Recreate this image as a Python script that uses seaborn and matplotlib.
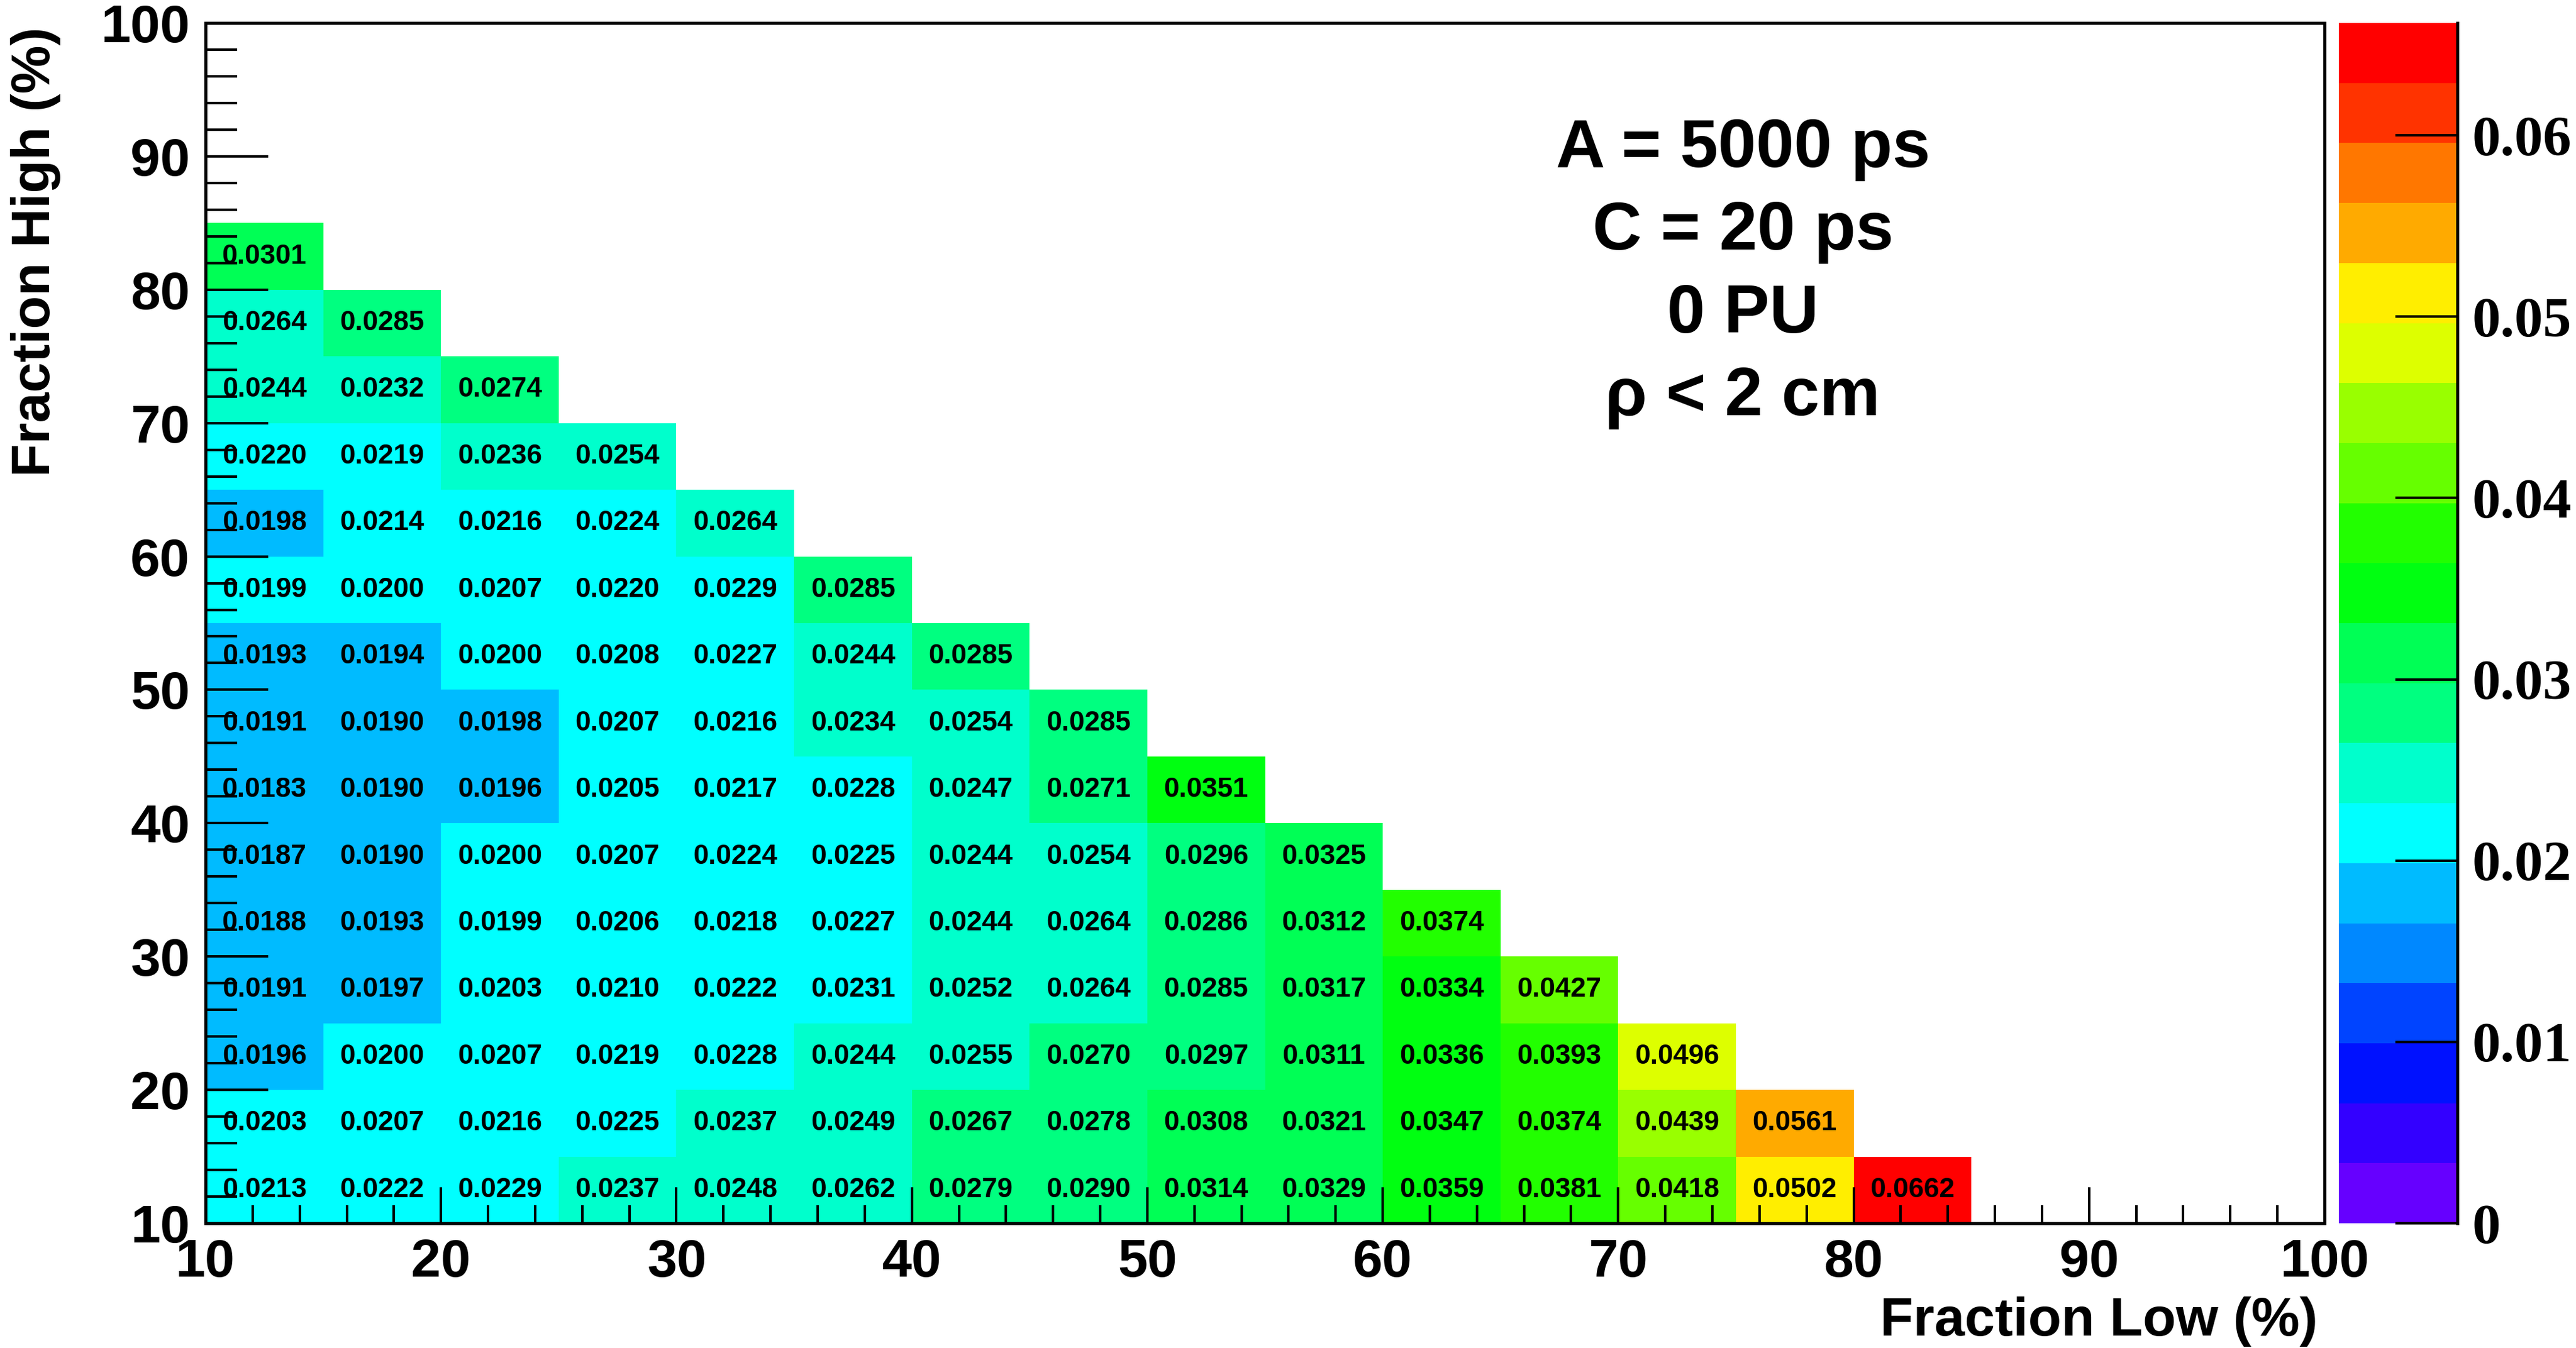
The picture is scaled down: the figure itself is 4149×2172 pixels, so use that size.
import numpy as np
import pandas as pd
import matplotlib
matplotlib.use("Agg")
import matplotlib.pyplot as plt
from matplotlib.colors import ListedColormap
import seaborn as sns

# Bin lower edges (percent) for both axes
low_edges = list(range(10, 100, 5))    # Fraction Low bins
high_edges = list(range(10, 100, 5))   # Fraction High bins

# Resolution per row of Fraction High, listed from Fraction Low = 10 upward
row_h10 = [0.0213, 0.0222, 0.0229, 0.0237, 0.0248, 0.0262, 0.0279, 0.0290, 0.0314, 0.0329, 0.0359, 0.0381, 0.0418, 0.0502, 0.0662]
row_h15 = [0.0203, 0.0207, 0.0216, 0.0225, 0.0237, 0.0249, 0.0267, 0.0278, 0.0308, 0.0321, 0.0347, 0.0374, 0.0439, 0.0561]
row_h20 = [0.0196, 0.0200, 0.0207, 0.0219, 0.0228, 0.0244, 0.0255, 0.0270, 0.0297, 0.0311, 0.0336, 0.0393, 0.0496]
row_h25 = [0.0191, 0.0197, 0.0203, 0.0210, 0.0222, 0.0231, 0.0252, 0.0264, 0.0285, 0.0317, 0.0334, 0.0427]
row_h30 = [0.0188, 0.0193, 0.0199, 0.0206, 0.0218, 0.0227, 0.0244, 0.0264, 0.0286, 0.0312, 0.0374]
row_h35 = [0.0187, 0.0190, 0.0200, 0.0207, 0.0224, 0.0225, 0.0244, 0.0254, 0.0296, 0.0325]
row_h40 = [0.0183, 0.0190, 0.0196, 0.0205, 0.0217, 0.0228, 0.0247, 0.0271, 0.0351]
row_h45 = [0.0191, 0.0190, 0.0198, 0.0207, 0.0216, 0.0234, 0.0254, 0.0285]
row_h50 = [0.0193, 0.0194, 0.0200, 0.0208, 0.0227, 0.0244, 0.0285]
row_h55 = [0.0199, 0.0200, 0.0207, 0.0220, 0.0229, 0.0285]
row_h60 = [0.0198, 0.0214, 0.0216, 0.0224, 0.0264]
row_h65 = [0.0220, 0.0219, 0.0236, 0.0254]
row_h70 = [0.0244, 0.0232, 0.0274]
row_h75 = [0.0264, 0.0285]
row_h80 = [0.0301]

rows = [row_h10, row_h15, row_h20, row_h25, row_h30, row_h35, row_h40,
        row_h45, row_h50, row_h55, row_h60, row_h65, row_h70, row_h75, row_h80]

x_tick_values = list(range(10, 101, 10))
y_tick_values = list(range(10, 101, 10))
cbar_tick_values = [0, 0.01, 0.02, 0.03, 0.04, 0.05, 0.06]
cbar_tick_labels = ["0", "0.01", "0.02", "0.03", "0.04", "0.05", "0.06"]
z_max = 0.0662

info_lines = ["A = 5000 ps", "C = 20 ps", "0 PU", "\u03c1 < 2 cm"]

# 20-step rainbow palette, bottom to top
palette = ['#6600ff', '#3300ff', '#0011ff', '#0044ff', '#0088ff', '#00bbff',
           '#00ffff', '#00ffcc', '#00ff80', '#00ff55', '#00ff11', '#22ff00',
           '#66ff00', '#99ff00', '#ddff00', '#ffee00', '#ffaa00', '#ff7700',
           '#ff3300', '#ff0000']

# Assemble the 2D table (rows: Fraction High, columns: Fraction Low)
grid = np.full((len(high_edges), len(low_edges)), np.nan)
for i, vals in enumerate(rows):
    grid[i, :len(vals)] = vals
df = pd.DataFrame(grid, index=high_edges, columns=low_edges)

sns.set_style("ticks")
plt.rcParams["font.family"] = ["Liberation Sans", "DejaVu Sans"]
plt.rcParams["font.weight"] = "bold"
plt.rcParams["text.color"] = "black"
plt.rcParams["xtick.color"] = "black"
plt.rcParams["ytick.color"] = "black"
plt.rcParams["axes.labelcolor"] = "black"
plt.rcParams["axes.axisbelow"] = False

W, H = 4149, 2172
fig = plt.figure(figsize=(W / 100, H / 100), dpi=100)
ax = fig.add_axes([331 / W, 1 - 1971 / H, (3744 - 331) / W, (1971 - 37) / H])
cax = fig.add_axes([3767 / W, 1 - 1971 / H, (3958 - 3767) / W, (1971 - 37) / H])

sns.heatmap(df, ax=ax, cbar_ax=cax, cmap=ListedColormap(palette),
            vmin=0, vmax=z_max, annot=True, fmt=".4f",
            annot_kws={"fontsize": 32, "fontweight": "bold", "color": "black"},
            linewidths=0, xticklabels=False, yticklabels=False)

ax.set_ylim(0, len(high_edges))
ax.set_xlim(0, len(low_edges))
ax.set_axisbelow(False)


def to_pos(v):
    return (v - 10) / 5.0


ax.set_xticks([to_pos(v) for v in x_tick_values])
ax.set_xticklabels([str(v) for v in x_tick_values])
ax.set_yticks([to_pos(v) for v in y_tick_values])
ax.set_yticklabels([str(v) for v in y_tick_values])
minor = [to_pos(v) for v in range(10, 101, 2) if v % 10 != 0]
ax.set_xticks(minor, minor=True)
ax.set_yticks(minor, minor=True)
ax.set_xlabel("")
ax.set_ylabel("")

ax.tick_params(axis="x", which="major", direction="in", length=42, width=2.9,
               pad=17, labelsize=62, bottom=True, top=False, color="black",
               labelcolor="black")
ax.tick_params(axis="x", which="minor", direction="in", length=21, width=2.9,
               bottom=True, top=False, color="black")
ax.tick_params(axis="y", which="major", direction="in", length=73, width=2.9,
               pad=18, labelsize=62, left=True, right=False, labelrotation=0,
               color="black", labelcolor="black")
ax.tick_params(axis="y", which="minor", direction="in", length=37, width=2.9,
               left=True, right=False, color="black")
for lab in ax.get_xticklabels() + ax.get_yticklabels():
    lab.set_fontweight("bold")

for s in ax.spines.values():
    s.set_visible(True)
    s.set_linewidth(3.6)
    s.set_color("black")
    s.set_zorder(5)

# Colour scale
cbar = ax.collections[0].colorbar
cbar.outline.set_visible(False)
cbar.set_ticks(cbar_tick_values)
cbar.set_ticklabels(cbar_tick_labels)
cax.minorticks_off()
cax.set_axisbelow(False)
cax.yaxis.set_ticks_position("right")
cax.spines["right"].set_visible(True)
cax.spines["right"].set_linewidth(3.6)
cax.spines["right"].set_color("black")
cax.spines["right"].set_zorder(5)
cax.tick_params(axis="y", which="major", direction="in", length=72, width=2.9,
                pad=17, labelsize=66, right=True, left=False, color="black",
                labelcolor="black")
for lab in cax.get_yticklabels():
    lab.set_fontfamily("Liberation Serif")
    lab.set_fontweight("bold")

# Axis titles
fig.text(3733 / W, 1 - 2152 / H, "Fraction Low (%)", ha="right", va="baseline",
         fontsize=63, fontweight="bold", color="black")
fig.text(80 / W, 1 - 43 / H, "Fraction High (%)", rotation=90,
         rotation_mode="anchor", ha="right", va="baseline",
         fontsize=63, fontweight="bold", color="black")

# Run conditions
for line, base in zip(info_lines, [269, 402, 536, 669]):
    fig.text(2807 / W, 1 - base / H, line, ha="center", va="baseline",
             fontsize=79, fontweight="bold", color="black")

fig.savefig("out.png", dpi=100, facecolor="white")
